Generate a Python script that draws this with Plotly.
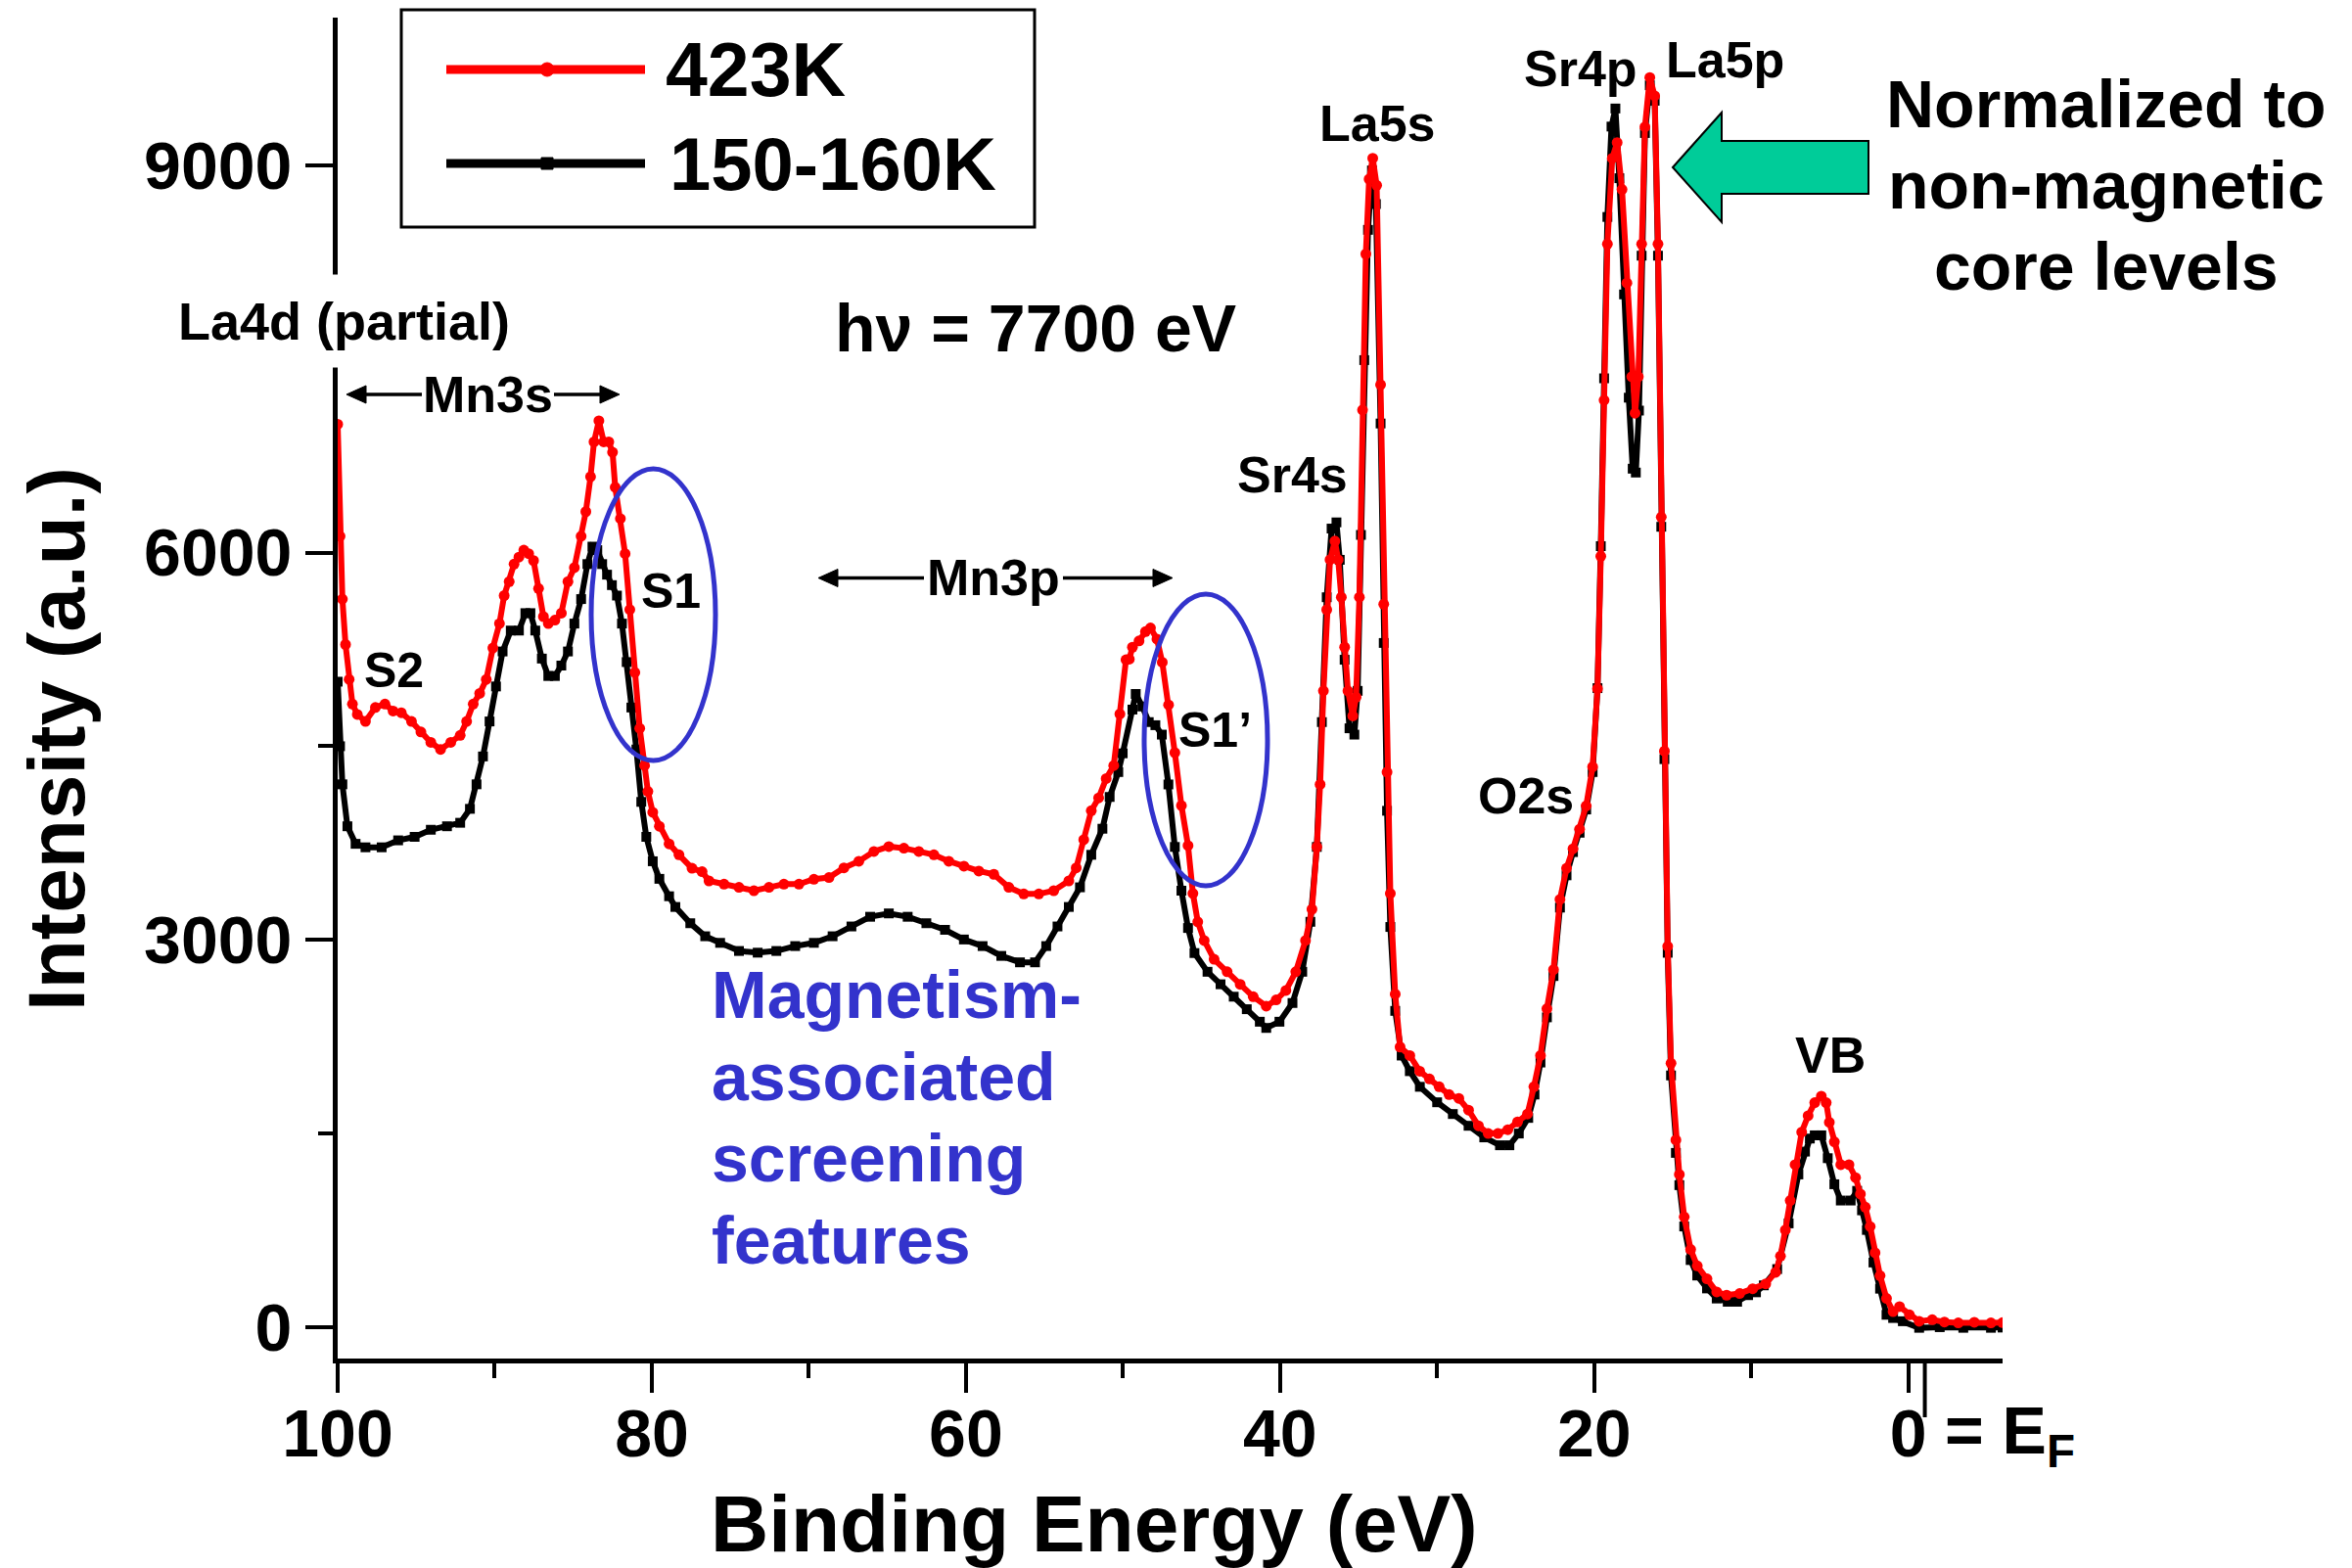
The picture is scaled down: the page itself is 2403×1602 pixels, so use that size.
import plotly.graph_objects as go

# Hard X-ray photoemission survey, La(1-x)Sr(x)MnO3, hv = 7700 eV
# Binding energy (eV) and intensity (a.u.) for each temperature
be_423 = [100.0, 99.85, 99.7, 99.5, 99.27, 99.06, 98.75, 98.23, 97.6, 96.99, 96.47, 95.95, 95.3, 94.7,
          94.07, 93.45, 92.8, 92.2, 91.79, 91.37, 90.96, 90.54, 90.12, 89.7, 89.4, 89.08, 88.77, 88.46,
          88.15, 87.84, 87.53, 87.21, 86.9, 86.59, 86.17, 85.76, 85.34, 84.93, 84.5, 84.2, 83.9, 83.68,
          83.37, 83.06, 82.74, 82.5, 82.33, 82.0, 81.7, 81.4, 81.08, 80.77, 80.46, 80.25, 79.94, 79.52,
          78.9, 78.27, 77.44, 76.8, 76.36, 75.4, 74.45, 73.5, 72.54, 71.59, 70.63, 69.68, 68.72, 67.77,
          66.82, 65.86, 64.91, 63.95, 63.0, 62.04, 61.09, 60.13, 59.18, 58.23, 57.27, 56.32, 55.36, 54.41,
          53.45, 52.98, 52.5, 52.02, 51.55, 51.07, 50.59, 50.2, 49.81, 49.6, 49.4, 48.98, 48.57, 48.25,
          47.84, 47.5, 47.1, 46.7, 46.28, 45.86, 45.55, 45.24, 44.83, 44.2, 43.37, 42.54, 41.71, 40.88,
          40.25, 39.63, 39.0, 38.38, 37.97, 37.66, 37.45, 37.24, 37.03, 36.82, 36.51, 36.3, 36.1, 35.89,
          35.68, 35.37, 35.16, 34.95, 34.75, 34.54, 34.33, 34.1, 33.85, 33.6, 33.4, 33.19, 32.98, 32.67,
          32.36, 31.74, 31.11, 30.49, 29.87, 29.24, 28.62, 28.0, 27.37, 26.75, 26.13, 25.5, 24.88, 24.25,
          23.84, 23.42, 23.01, 22.59, 22.18, 21.76, 21.35, 20.93, 20.51, 20.1, 19.79, 19.58, 19.37, 19.16,
          18.85, 18.54, 18.23, 17.92, 17.61, 17.4, 17.19, 16.98, 16.77, 16.46, 16.15, 15.94, 15.73, 15.53,
          15.32, 15.11, 14.8, 14.58, 14.27, 13.86, 13.44, 12.82, 12.2, 11.57, 10.74, 9.91, 9.08, 8.45,
          8.14, 7.83, 7.52, 7.21, 6.79, 6.38, 5.96, 5.54, 5.23, 5.03, 4.71, 4.3, 3.78, 3.36, 3.05, 2.74,
          2.43, 2.12, 1.8, 1.39, 0.97, 0.56, -0.07, -0.69, -1.52, -2.3, -3.18, -4.2, -5.26, -6.0]
int_423 = [6994, 6127, 5640, 5288, 5017, 4827, 4746, 4692, 4800, 4827, 4773, 4760, 4692, 4611,
           4530, 4475, 4530, 4584, 4692, 4827, 4909, 5017, 5261, 5450, 5667, 5775, 5911, 5965,
           6019, 5992, 5938, 5721, 5504, 5450, 5477, 5531, 5775, 5884, 6127, 6317, 6588, 6858,
           7021, 6858, 6858, 6777, 6506, 6263, 5992, 5558, 5071, 4638, 4350, 4150, 3988, 3880,
           3744, 3659, 3555, 3528, 3457, 3432, 3407, 3381, 3407, 3432, 3432, 3470, 3483, 3558,
           3609, 3685, 3723, 3710, 3685, 3659, 3609, 3571, 3533, 3508, 3407, 3356, 3356, 3381,
           3457, 3558, 3776, 4000, 4100, 4250, 4350, 4750, 5170, 5175, 5267, 5316, 5388, 5416,
           5330, 5150, 4820, 4450, 4040, 3730, 3360, 3140, 2995, 2850, 2753, 2656, 2560, 2487,
           2535, 2608, 2753, 2995, 3237, 3720, 4204, 4929, 5557, 5944, 6089, 5944, 5654, 5267,
           4929, 4735, 4880, 5654, 7105, 8313, 8893, 9055, 8845, 7300, 5600, 4300, 3360, 2580,
           2170, 2104, 1983, 1923, 1862, 1802, 1772, 1681, 1560, 1500, 1500, 1530, 1590, 1651,
           1862, 2104, 2467, 2769, 3313, 3555, 3706, 3857, 4038, 4341, 4945, 5972, 7181, 8390,
           9055, 9176, 8813, 8088, 7363, 7080, 7363, 8390, 9297, 9680, 9538, 8390, 6275, 4462,
           2950, 2044, 1450, 1183, 854, 602, 475, 374, 273, 248, 261, 298, 336, 425,
           551, 753, 981, 1259, 1511, 1638, 1739, 1789, 1739, 1587, 1436, 1259, 1259, 1158, 1031, 930,
           779, 576, 399, 223, 121, 159, 96, 46, 58, 40, 33, 38, 33, 35]

be_150 = [100.0, 99.85, 99.7, 99.38, 98.86, 98.23, 97.2, 96.15, 95.1, 94.07, 93.04, 92.2, 91.58, 91.16,
          90.75, 90.33, 89.92, 89.5, 88.98, 88.46, 88.05, 87.73, 87.42, 87.0, 86.59, 86.17, 85.76, 85.34,
          84.93, 84.5, 84.1, 83.78, 83.47, 83.16, 82.85, 82.54, 82.22, 81.9, 81.6, 81.3, 80.98, 80.67,
          80.35, 79.94, 79.52, 78.9, 78.5, 77.55, 76.6, 75.65, 74.45, 73.26, 72.07, 70.87, 69.68, 68.49,
          67.29, 66.1, 64.91, 63.71, 62.52, 61.33, 60.13, 58.94, 57.75, 56.56, 55.6, 54.89, 54.17, 53.45,
          52.74, 52.02, 51.31, 50.85, 50.3, 50.02, 49.4, 49.19, 48.77, 48.36, 47.94, 47.53, 47.11, 46.7,
          46.28, 45.86, 45.45, 44.62, 43.79, 42.95, 42.12, 41.29, 40.88, 40.04, 39.21, 38.59, 38.07, 37.66,
          37.34, 37.03, 36.72, 36.41, 36.2, 35.89, 35.58, 35.27, 35.06, 34.85, 34.64, 34.4, 34.15, 33.9,
          33.6, 33.4, 33.19, 32.98, 32.67, 32.26, 31.74, 31.1, 30.0, 29.0, 28.0, 27.0, 26.0, 25.4,
          24.8, 24.2, 23.8, 23.42, 23.01, 22.59, 22.18, 21.76, 21.35, 20.93, 20.51, 20.1, 19.79, 19.58,
          19.37, 19.16, 18.9, 18.65, 18.4, 18.1, 17.8, 17.55, 17.35, 17.15, 16.98, 16.77, 16.46, 16.15,
          15.94, 15.73, 15.53, 15.32, 15.11, 14.8, 14.58, 14.27, 13.86, 13.44, 12.82, 12.2, 11.5, 10.9,
          10.2, 9.7, 9.2, 8.35, 7.62, 7.0, 6.58, 6.27, 5.96, 5.54, 5.13, 4.71, 4.3, 3.67, 3.26, 2.95,
          2.64, 2.22, 1.8, 1.39, 0.97, 0.35, -0.69, -2.0, -3.5, -5.26, -6.0]
int_150 = [5000, 4500, 4205, 3880, 3744, 3717, 3717, 3771, 3798, 3853, 3880, 3907, 4015, 4205,
           4421, 4692, 4963, 5234, 5396, 5396, 5531, 5531, 5396, 5179, 5044, 5044, 5125, 5234,
           5450, 5640, 5911, 6046, 6019, 5911, 5829, 5748, 5667, 5450, 5152, 4800, 4475, 4069,
           3798, 3609, 3473, 3338, 3255, 3129, 3028, 2977, 2914, 2901, 2914, 2952, 2977, 3028,
           3104, 3179, 3205, 3179, 3129, 3078, 3003, 2952, 2876, 2826, 2826, 2952, 3104, 3255,
           3407, 3659, 3861, 4107, 4300, 4445, 4784, 4905, 4808, 4687, 4663, 4590, 4204, 3720,
           3381, 3092, 2898, 2753, 2656, 2560, 2463, 2366, 2318, 2366, 2511, 2753, 3140, 3720,
           4687, 5654, 6186, 6234, 5944, 5170, 4639, 4590, 4929, 6137, 7491, 8500, 8960, 8700,
           7000, 5300, 4000, 3100, 2450, 2104, 1983, 1862, 1742, 1651, 1560, 1470, 1409, 1409,
           1500, 1621, 1802, 2050, 2400, 2720, 3250, 3500, 3680, 3830, 4010, 4300, 4950, 6050,
           7350, 8600, 9300, 9440, 8900, 8000, 7200, 6650, 6620, 7100, 8300, 9250, 9620, 9500,
           8300, 6200, 4400, 2900, 1950, 1350, 1100, 780, 520, 400, 300, 222, 197, 197,
           248, 270, 324, 450, 804, 1183, 1360, 1461, 1486, 1486, 1309, 1107, 981, 981, 1056, 905,
           753, 501, 298, 96, 71, 46, -5, 0, -5, -5, -3]

x_ticks = [100, 80, 60, 40, 20, 0]
x_minor = [90, 70, 50, 30, 10]
y_ticks = [0, 3000, 6000, 9000]
y_minor = [1500, 4500, 7500]

FONT = "Liberation Sans"
RED = "#ff0000"
BLUE = "#3333cc"
GREEN = "#00cc99"

# plot-area geometry in pixels
W_FIG, H_FIG = 2403, 1602
L, R, T, B = 345, 2046, 18, 1388


def px(x):
    return (x - L) / (R - L)


def py(y):
    return (B - y) / (B - T)


def pt(x, y):
    return f"{px(x):.5f},{py(y):.5f}"


fig = go.Figure()
fig.add_trace(go.Scatter(
    x=be_150, y=int_150, name="150-160K", mode="lines+markers",
    line=dict(color="black", width=6),
    marker=dict(symbol="square", size=10, color="black"),
    showlegend=False,
))
fig.add_trace(go.Scatter(
    x=be_423, y=int_423, name="423K", mode="lines+markers",
    line=dict(color=RED, width=6),
    marker=dict(symbol="circle", size=11, color=RED),
    showlegend=False,
))

shapes = []
annotations = []


def label(text, x, y, size, color="black", xanchor="center", **kw):
    annotations.append(dict(
        text=text, x=px(x), y=py(y), xref="paper", yref="paper",
        xanchor=xanchor, yanchor="middle", showarrow=False,
        font=dict(family=FONT, size=size, color=color, weight="bold"), **kw))


def hline(x0, x1, y, width, color="black"):
    shapes.append(dict(type="line", xref="paper", yref="paper",
                       x0=px(x0), x1=px(x1), y0=py(y), y1=py(y),
                       line=dict(color=color, width=width)))


def head(tip_x, y, back_x, half):
    shapes.append(dict(type="path", xref="paper", yref="paper",
                       path=f"M{pt(tip_x, y)} L{pt(back_x, y - half)} L{pt(back_x, y + half)} Z",
                       fillcolor="black", line=dict(color="black", width=1)))


# legend box
shapes.append(dict(type="rect", xref="paper", yref="paper",
                   x0=px(410), x1=px(1057), y0=py(232), y1=py(10),
                   line=dict(color="black", width=3), fillcolor="white"))
hline(456, 659, 71, 9, RED)
shapes.append(dict(type="circle", xref="paper", yref="paper",
                   x0=px(552), x1=px(566), y0=py(78), y1=py(64),
                   fillcolor=RED, line=dict(color=RED, width=1)))
hline(456, 659, 167, 9, "black")
shapes.append(dict(type="rect", xref="paper", yref="paper",
                   x0=px(553), x1=px(565), y0=py(173), y1=py(161),
                   fillcolor="black", line=dict(color="black", width=1)))
label("423K", 678, 71, 77, xanchor="left")
label("150-160K", 682, 167, 76, xanchor="left")

# double arrows for Mn3s and Mn3p ranges
hline(368, 431, 403, 3.5)
hline(566, 618, 403, 3.5)
head(354, 403, 374, 9)
head(633, 403, 613, 9)
hline(850, 944, 590.5, 3.5)
hline(1086, 1184, 590.5, 3.5)
head(836, 590.5, 856, 9)
head(1198, 590.5, 1178, 9)

# screening-feature ellipses
shapes.append(dict(type="circle", xref="paper", yref="paper",
                   x0=px(604), x1=px(731), y0=py(777), y1=py(479),
                   line=dict(color=BLUE, width=5)))
shapes.append(dict(type="circle", xref="paper", yref="paper",
                   x0=px(1169), x1=px(1295), y0=py(905), y1=py(607),
                   line=dict(color=BLUE, width=5)))

# normalisation arrow
shapes.append(dict(type="path", xref="paper", yref="paper",
                   path=(f"M{pt(1709, 171)} L{pt(1759, 115)} L{pt(1759, 144)} L{pt(1909, 144)} "
                         f"L{pt(1909, 198)} L{pt(1759, 198)} L{pt(1759, 227)} Z"),
                   fillcolor=GREEN, line=dict(color="black", width=2)))

# Fermi-level marker below the axis
shapes.append(dict(type="line", xref="x", yref="paper", x0=-1.05, x1=-1.05,
                   y0=0, y1=py(1448), line=dict(color="black", width=4)))

# text labels
label("La4d (partial)", 351, 328, 54, bgcolor="white", borderpad=17)
label("h\u03bd = 7700 eV", 1058, 335, 68)
label("Mn3s", 498, 403, 52)
label("Mn3p", 1015, 590, 52)
label("S2", 402, 685, 50)
label("S1", 685, 604, 50)
label("S1\u2019", 1241, 746, 50)
label("Sr4s", 1320, 485, 52)
label("La5s", 1407, 126, 52)
label("Sr4p", 1615, 70, 52)
label("La5p", 1762, 61, 52)
label("O2s", 1559, 813, 52)
label("VB", 1870, 1078, 52)
for i, line_text in enumerate(["Normalized to", "non-magnetic", "core levels"]):
    label(line_text, 2152, 106 + 83 * i, 68)
for i, line_text in enumerate(["Magnetism-", "associated", "screening", "features"]):
    label(line_text, 725, 1016 + 83.5 * i, 68, color=BLUE, xanchor="left")
label("= E<sub>F</sub>", 1985, 1466, 68, xanchor="left")

# axis titles
label("Intensity (a.u.)", 57, 755, 82, textangle=-90)
label("Binding Energy (eV)", 1118, 1557, 82)

tickfont = dict(family=FONT, size=68, color="black", weight="bold")
fig.update_layout(
    width=W_FIG, height=H_FIG,
    margin=dict(l=L, r=W_FIG - R, t=T, b=H_FIG - B),
    paper_bgcolor="white", plot_bgcolor="white",
    showlegend=False,
    shapes=shapes, annotations=annotations,
    xaxis=dict(
        range=[100, -6], showgrid=False, zeroline=False,
        showline=True, linewidth=5, linecolor="black",
        ticks="outside", ticklen=30, tickwidth=4, tickcolor="black",
        tickvals=x_ticks, ticktext=[str(v) for v in x_ticks], tickfont=tickfont,
        ticklabelstandoff=-17,
        minor=dict(tickvals=x_minor, ticks="outside", ticklen=15, tickwidth=4,
                   tickcolor="black", showgrid=False),
    ),
    yaxis=dict(
        range=[-243, 10144], showgrid=False, zeroline=False,
        showline=True, linewidth=5, linecolor="black",
        ticks="outside", ticklen=28, tickwidth=4, tickcolor="black",
        tickvals=y_ticks, ticktext=[str(v) for v in y_ticks], tickfont=tickfont,
        minor=dict(tickvals=y_minor, ticks="outside", ticklen=15, tickwidth=4,
                   tickcolor="black", showgrid=False),
    ),
)

fig.write_html("out.html")
